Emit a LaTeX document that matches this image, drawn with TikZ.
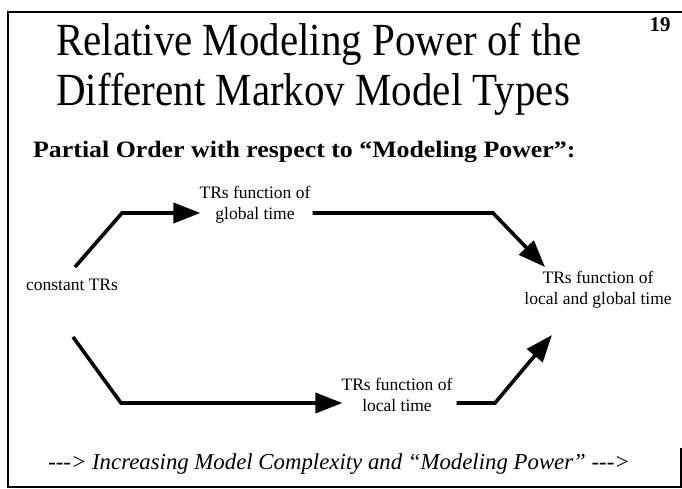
\documentclass[tikz,border=0pt]{standalone}
\usepackage{fontspec}
\setmainfont{Liberation Serif}
\usetikzlibrary{arrows.meta,calc}
\tikzset{
  lbl/.style={align=center,font=\fontsize{17.5}{21}\selectfont,inner sep=1pt},
  conn/.style={line width=3.6pt,line join=miter,-{Triangle[length=27pt,width=20pt]}},
  frame/.style={line width=1.6pt}
}
\begin{document}
\begin{tikzpicture}[x=1pt,y=-1pt]
\useasboundingbox[fill=white] (0,0) rectangle (682,489);
% frame
\draw[frame] (682,12) -- (8,12) -- (8,487) -- (682,487);
\draw[frame] (681,448) -- (681,487);
% titles
\node[anchor=base west,inner sep=0pt,font=\fontsize{46}{50}\selectfont] (title1) at (56,56) {\scalebox{0.89}[1]{Relative Modeling Power of the}};
\node[anchor=base west,inner sep=0pt,font=\fontsize{46}{50}\selectfont] (title2) at (56,106) {\scalebox{0.89}[1]{Different Markov Model Types}};
\node[font=\fontsize{21}{24}\selectfont\bfseries] (num) at (660,25) {19};
\node[anchor=base west,inner sep=0pt,font=\fontsize{23.5}{27}\selectfont\bfseries] (sub) at (33,158) {\scalebox{1.1}[1]{Partial Order with respect to “Modeling Power”:}};
% state nodes
\node[lbl] (const) at (72,285) {constant TRs};
\node[lbl] (glob) at (255,205) {TRs function of\\global time};
\node[lbl] (loc) at (397,395) {TRs function of\\local time};
\node[lbl] (lg) at (598,290) {TRs function of\\local and global time};
% connectors
\coordinate (c1) at (122,213);
\coordinate (c2) at (493,213);
\coordinate (c3) at (121,403);
\coordinate (c4) at (495,403);
\draw[conn] ($(const.center)+(3,-18)$) -- (c1) -- ($(glob.west |- c1)+(2,0)$);
\draw[conn] ($(glob.east |- c1)+(1,0)$) -- (c2) -- ($(lg.center)+(-53,-23)$);
\draw[conn] ($(const.center)+(1,52)$) -- (c3) -- ($(loc.west |- c3)+(2,0)$);
\draw[conn] ($(loc.east |- c3)+(3,0)$) -- (c4) -- ($(lg.center)+(-46,45)$);
% footer
\node[font=\fontsize{22.8}{26}\selectfont\itshape] (foot) at (339,464) {-{}-{}-{}> Increasing Model Complexity and “Modeling Power” -{}-{}-{}>};
\end{tikzpicture}
\end{document}
